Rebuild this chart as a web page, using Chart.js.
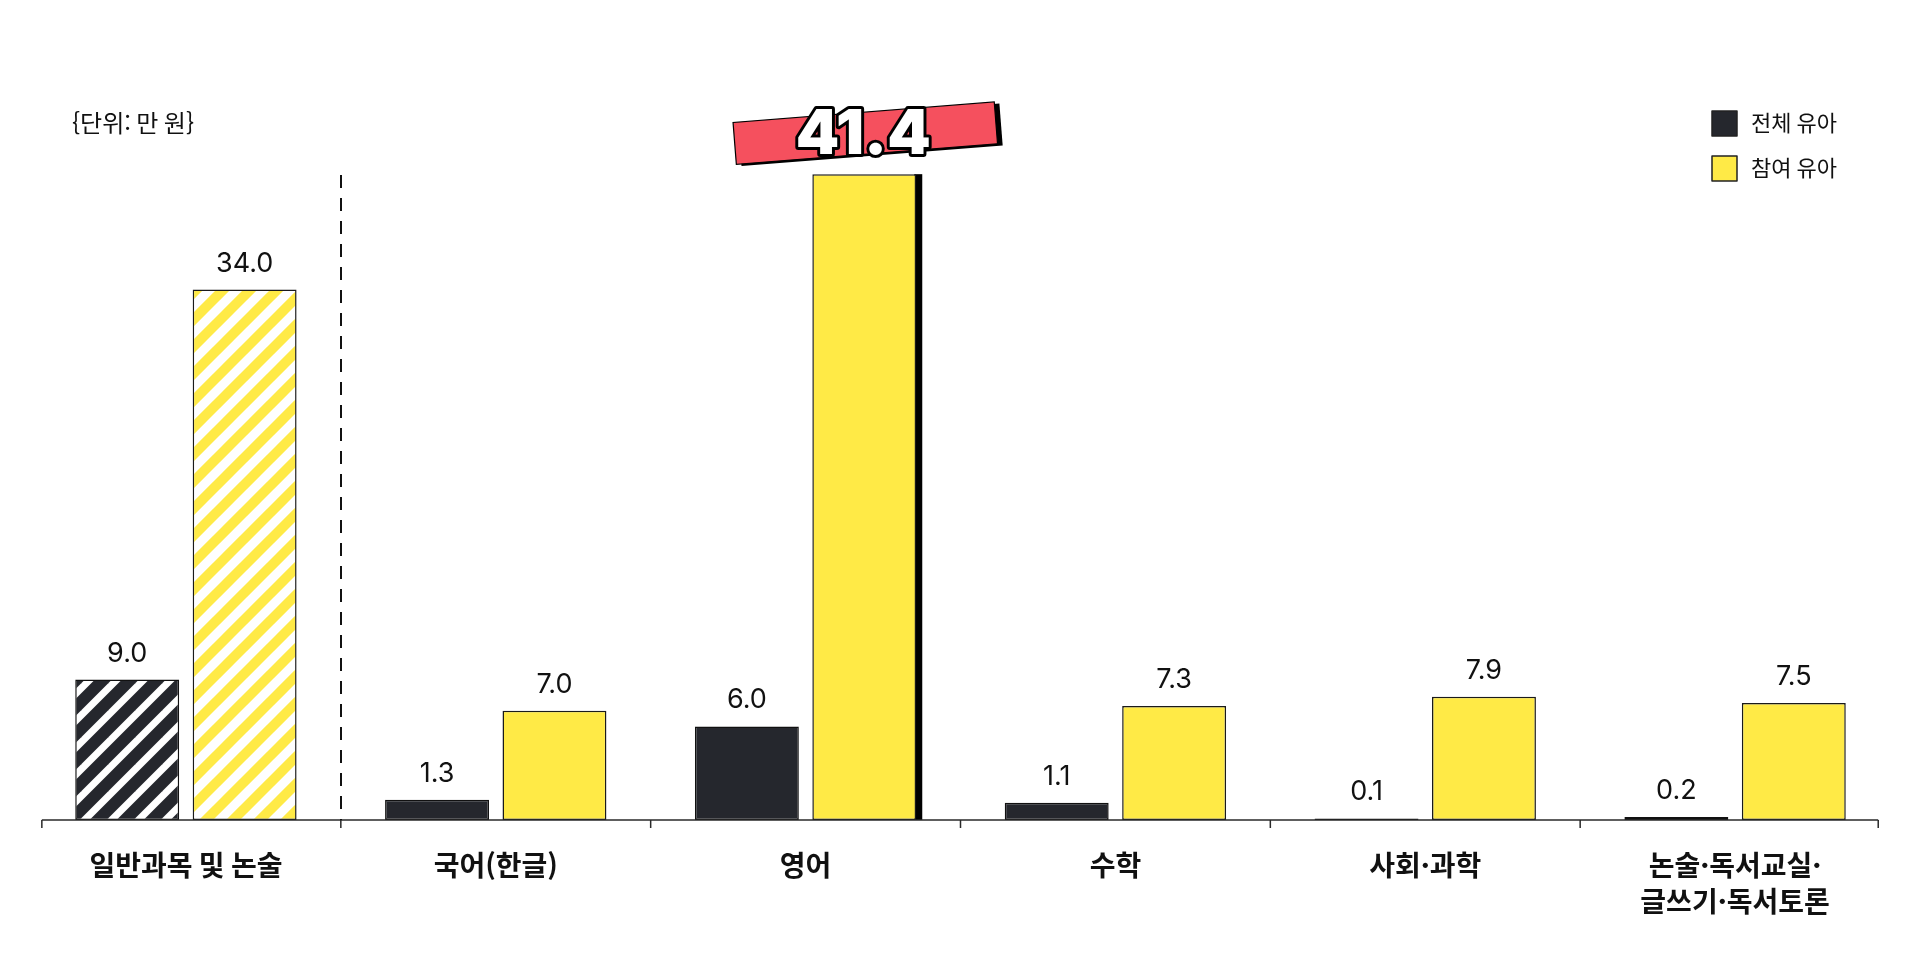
<!DOCTYPE html>
<html lang="ko">
<head>
<meta charset="utf-8">
<title>유아 사교육비</title>
<script src="https://cdn.jsdelivr.net/npm/chart.js@4"></script>
<style>
  html, body { margin: 0; padding: 0; background: #ffffff; }
  #wrap { position: relative; width: 1920px; height: 960px; }
</style>
</head>
<body>
<div id="wrap"><canvas id="chart"></canvas></div>
<script>
// 과목별 월평균 사교육비 (단위: 만 원)
const categories = [
  '일반과목 및 논술',
  '국어(한글)',
  '영어',
  '수학',
  '사회·과학',
  ['논술·독서교실·', '글쓰기·독서토론']
];
const seriesNames = ['전체 유아', '참여 유아'];
const allKids = [9.0, 1.3, 6.0, 1.1, 0.1, 0.2];
const participants = [34.0, 7.0, 41.4, 7.3, 7.9, 7.5];
const unitLabel = '{단위: 만 원}';
const highlightIndex = 2;   // 강조 표시할 막대 (영어, 참여 유아)
const summaryIndex = 0;     // 빗금으로 그리는 합계 항목

const DARK = '#25272d';
const YELLOW = '#ffea46';
const RED = '#f5505e';
const INK = '#111111';
const SANS = "Inter, 'Noto Sans CJK KR', sans-serif";
const KR = "'Noto Sans CJK KR', sans-serif";

// 사선 빗금 패턴
function stripePattern(color, thickness) {
  const P = 27;
  const c = document.createElement('canvas');
  c.width = P; c.height = P;
  const g = c.getContext('2d');
  g.fillStyle = '#ffffff';
  g.fillRect(0, 0, P, P);
  g.strokeStyle = color;
  g.lineWidth = thickness;
  g.lineCap = 'square';
  for (let k = -1; k <= 1; k++) {
    g.beginPath();
    g.moveTo(k * P, P);
    g.lineTo(k * P + P, 0);
    g.stroke();
  }
  return g.createPattern(c, 'repeat');
}

const darkFill = allKids.map((_, i) => i === summaryIndex ? stripePattern(DARK, 12) : DARK);
const yellowFill = participants.map((_, i) => i === summaryIndex ? stripePattern(YELLOW, 10) : YELLOW);

// 그림자, 축선, 구분선, 값 라벨, 범례, 단위 표시
const decorations = {
  id: 'decorations',
  beforeDatasetsDraw(chart) {
    const ctx = chart.ctx;
    const bar = chart.getDatasetMeta(1).data[highlightIndex];
    if (!bar) return;
    const p = bar.getProps(['x', 'y', 'base', 'width'], true);
    ctx.save();
    ctx.fillStyle = '#000000';
    ctx.fillRect(p.x + p.width / 2 - 2, p.y, 8, p.base - p.y);
    ctx.restore();
  },
  afterDatasetsDraw(chart) {
    const ctx = chart.ctx;
    const x = chart.scales.x;
    const area = chart.chartArea;
    const n = categories.length;
    const step = x.getPixelForValue(1) - x.getPixelForValue(0);
    const base = area.bottom;
    const leftEnd = x.getPixelForValue(0) - step * 0.465;
    const rightEnd = x.getPixelForValue(n - 1) + step * 0.462;

    ctx.save();
    // 가로 축선과 눈금
    ctx.strokeStyle = '#2a2a2a';
    ctx.lineWidth = 1.5;
    ctx.beginPath();
    ctx.moveTo(leftEnd, base);
    ctx.lineTo(rightEnd, base);
    const ticks = [leftEnd, rightEnd];
    for (let i = 0; i < n - 1; i++) ticks.push(x.getPixelForValue(i + 0.5));
    ticks.forEach(tx => {
      ctx.moveTo(tx, base);
      ctx.lineTo(tx, base + 8);
    });
    ctx.stroke();

    // 합계 항목과 세부 과목 사이 점선
    const sx = Math.round(x.getPixelForValue(summaryIndex + 0.5));
    ctx.strokeStyle = '#111111';
    ctx.lineWidth = 2;
    ctx.setLineDash([13, 10]);
    ctx.beginPath();
    ctx.moveTo(sx, area.top + 57);
    ctx.lineTo(sx, base);
    ctx.stroke();
    ctx.setLineDash([]);

    // 값 라벨
    ctx.fillStyle = INK;
    ctx.textAlign = 'center';
    ctx.textBaseline = 'alphabetic';
    ctx.font = '400 27px ' + SANS;
    [0, 1].forEach(di => {
      const vals = di === 0 ? allKids : participants;
      chart.getDatasetMeta(di).data.forEach((el, i) => {
        if (di === 1 && i === highlightIndex) return;
        ctx.fillText(vals[i].toFixed(1), el.x, el.y - 18);
      });
    });

    // 강조 배너
    const hb = chart.getDatasetMeta(1).data[highlightIndex];
    const cx = hb.x + 1, cy = hb.y - 41;
    ctx.save();
    ctx.translate(cx, cy);
    ctx.rotate(-4.5 * Math.PI / 180);
    ctx.fillStyle = '#000000';
    ctx.fillRect(-131 + 5, -21 + 2, 262, 42);
    ctx.fillStyle = RED;
    ctx.fillRect(-131, -21, 262, 42);
    ctx.strokeStyle = '#000000';
    ctx.lineWidth = 1.2;
    ctx.strokeRect(-131, -21, 262, 42);
    ctx.restore();
    ctx.font = '900 62px ' + SANS;
    ctx.textAlign = 'center';
    ctx.textBaseline = 'middle';
    ctx.lineJoin = 'round';
    ctx.lineWidth = 6;
    ctx.strokeStyle = '#000000';
    ctx.strokeText(participants[highlightIndex].toFixed(1), cx - 2, cy + 2);
    ctx.fillStyle = '#ffffff';
    ctx.fillText(participants[highlightIndex].toFixed(1), cx - 2, cy + 2);

    // 범례
    const lx = chart.width - 208;
    const colors = [DARK, YELLOW];
    ctx.font = '400 22px ' + KR;
    ctx.textAlign = 'left';
    ctx.textBaseline = 'middle';
    seriesNames.forEach((name, i) => {
      const y = 111 + i * 45;
      ctx.fillStyle = colors[i];
      ctx.fillRect(lx, y, 25, 25);
      ctx.strokeStyle = '#222222';
      ctx.lineWidth = 1.5;
      ctx.strokeRect(lx, y, 25, 25);
      ctx.fillStyle = INK;
      ctx.fillText(name, lx + 39, y + 12);
    });

    // 단위
    ctx.font = '400 24px ' + KR;
    ctx.fillText(unitLabel, 72, 123);
    ctx.restore();
  }
};

new Chart(document.getElementById('chart'), {
  type: 'bar',
  data: {
    labels: categories,
    datasets: [
      {
        label: seriesNames[0],
        data: allKids,
        backgroundColor: darkFill,
        borderColor: '#111111',
        borderWidth: 1.5,
        borderSkipped: false
      },
      {
        label: seriesNames[1],
        data: participants,
        backgroundColor: yellowFill,
        borderColor: '#1a1a1a',
        borderWidth: 1.5,
        borderSkipped: false
      }
    ]
  },
  options: {
    responsive: true,
    maintainAspectRatio: false,
    animation: false,
    layout: { padding: { left: 31, right: 30, top: 118, bottom: 0 } },
    plugins: {
      legend: { display: false },
      tooltip: { enabled: false }
    },
    datasets: {
      bar: { categoryPercentage: 0.758, barPercentage: 0.885 }
    },
    scales: {
      x: {
        grid: { display: false, drawTicks: false },
        border: { display: false },
        ticks: {
          color: INK,
          padding: 27,
          maxRotation: 0,
          autoSkip: false,
          font: { family: KR, size: 28, weight: '700', lineHeight: 1.3 }
        },
        afterFit(scale) { scale.height = 140; }
      },
      y: {
        display: false,
        min: 0,
        max: 45
      }
    }
  },
  plugins: [decorations]
});
</script>
</body>
</html>
